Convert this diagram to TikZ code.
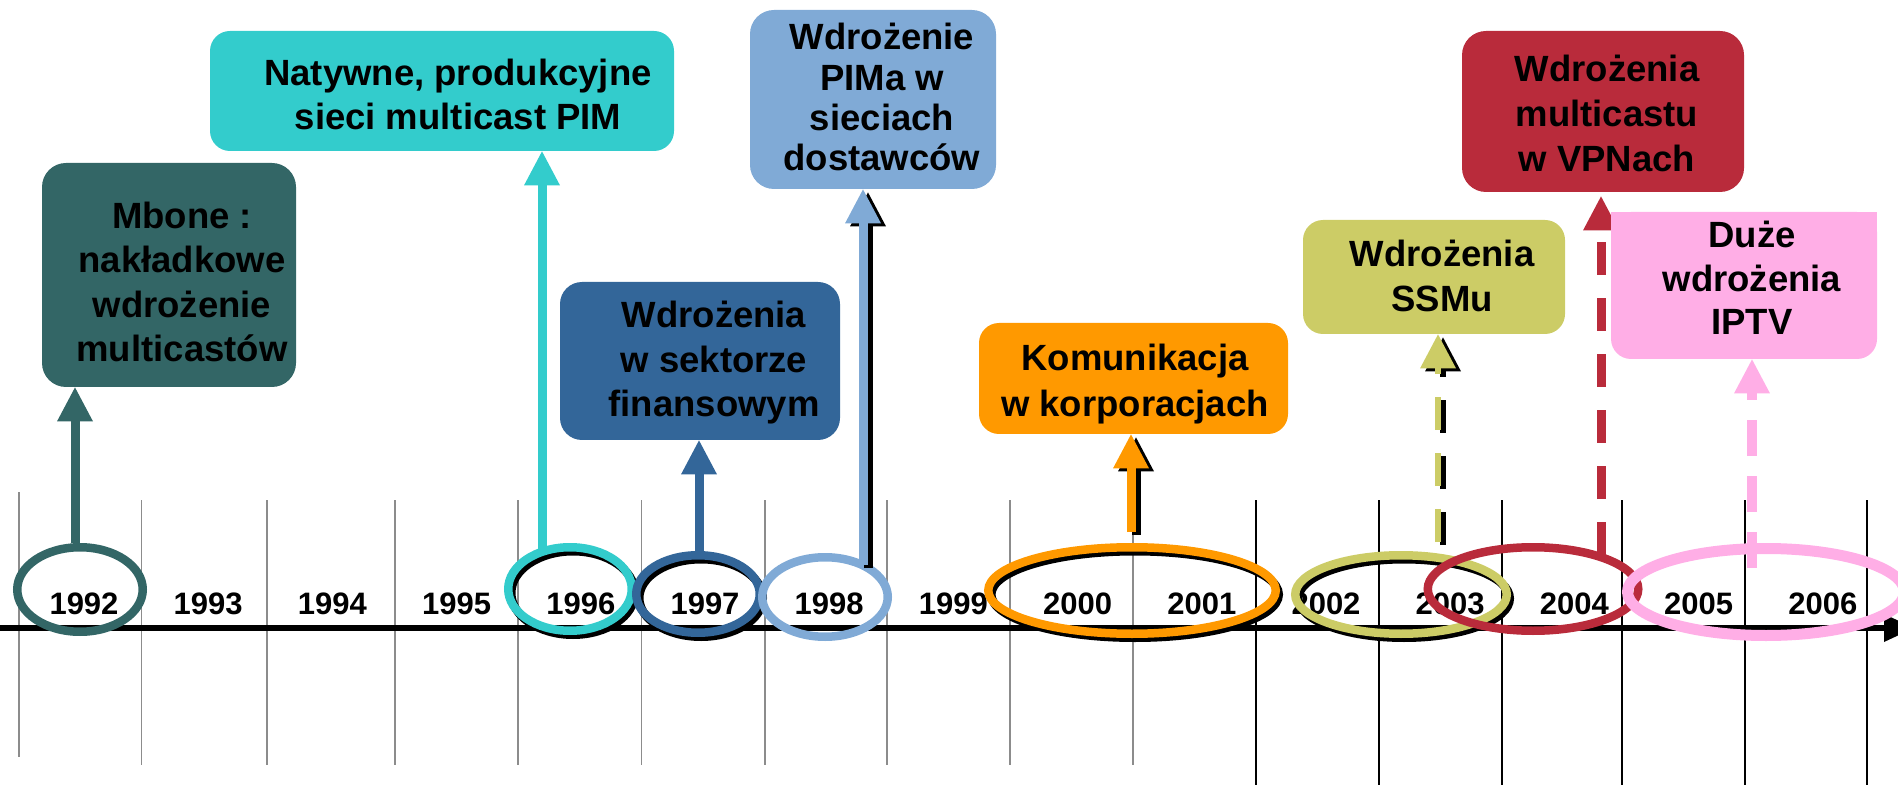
\documentclass[tikz,border=0pt]{standalone}
\usepackage{fontspec}
\setmainfont{Liberation Sans}
\usetikzlibrary{arrows.meta,shapes.geometric,fit}

\definecolor{cTeal}{HTML}{336666}
\definecolor{cTurq}{HTML}{33CCCC}
\definecolor{cBlue}{HTML}{336699}
\definecolor{cSky}{HTML}{80AAD6}
\definecolor{cOrange}{HTML}{FF9900}
\definecolor{cRed}{HTML}{B92B3B}
\definecolor{cOlive}{HTML}{CCCC66}
\definecolor{cPink}{HTML}{FFAEE6}

\begin{document}
\begin{tikzpicture}[x=0.5pt,y=-0.5pt,
  yearlbl/.style={font=\fontsize{15.5pt}{18pt}\selectfont\bfseries, anchor=base, inner sep=0pt},
  boxtxt/.style={font=\fontsize{18.25pt}{22.25pt}\selectfont\bfseries, align=center, anchor=base, inner sep=0pt},
  evbox/.style={inner sep=0pt, rounded corners=#1, draw=none},
  ring/.style={ellipse, inner sep=0pt, line width=4.25pt},
  shadowed/.style={preaction={draw=black, transform canvas={xshift=1.5pt,yshift=-2pt}}},
  gridgray/.style={draw=black!45, line width=0.75pt},
  gridblack/.style={draw=black, line width=1pt},
  axisline/.style={draw=black, line width=2.75pt, -{Triangle[length=15pt,width=14pt,line width=0pt]}},
  bigtip/.style={-{Triangle[length=17pt,width=18pt,line width=0pt]}},
  stem/.style={line width=4.5pt, bigtip},
  dashstem/.style={stem, dash pattern=on 16.5pt off 11.5pt},
  shadowshift/.style={transform canvas={xshift=2.5pt,yshift=-1.5pt}}
]
\useasboundingbox (0,0) rectangle (1898,785);

% year grid
\draw[gridgray] (19,492) -- (19,757);
\foreach \gx in {141.5,267,395,518,641.5,765,887,1010,1133}
  \draw[gridgray] (\gx,500) -- (\gx,765);
\foreach \gx in {1256,1379,1502,1622,1745,1867}
  \draw[gridblack] (\gx,500) -- (\gx,785);

% time axis
\coordinate (axL) at (0,628);
\coordinate (axR) at (1914,628);
\draw[axisline] (axL) -- (axR);

% year labels
\foreach \yr [count=\k from 0] in {1992,...,2006}
  \node[yearlbl] (yr\yr) at ({84+124.2*\k},614) {\yr};

% period rings
\node[ring, draw=cTeal, minimum width=62.75pt, minimum height=42.25pt] (e92) at (80,589.5) {};
\node[ring, shadowed, draw=cTurq, minimum width=61.75pt, minimum height=41.75pt] (e96) at (570,589) {};
\node[ring, shadowed, draw=cBlue, minimum width=61.75pt, minimum height=38.75pt] (e97) at (698,594) {};
\node[ring, draw=cSky, minimum width=62.75pt, minimum height=39.75pt] (e98) at (825,597) {};
\node[ring, shadowed, draw=cOrange, minimum width=143.75pt, minimum height=43.25pt] (e00) at (1132,590.5) {};
\node[ring, shadowed, draw=cOlive, minimum width=105.75pt, minimum height=39.25pt] (e02) at (1401,594.5) {};
\node[ring, draw=cRed, minimum width=105.25pt, minimum height=41.75pt] (e03) at (1533,589) {};
\node[ring, draw=cPink, line width=5.5pt, minimum width=138.5pt, minimum height=43.5pt] (e05) at (1766,592) {};

% event boxes
\node[evbox=12pt, fill=cTeal, fit={(42,163) (296,387)}] (mbone) {};
\node[evbox=10pt, fill=cTurq, fit={(210,31) (674,151)}] (natyw) {};
\node[evbox=11pt, fill=cBlue, fit={(560,282) (840,440)}] (finans) {};
\node[evbox=12pt, fill=cSky, fit={(750,10) (996,189)}] (pima) {};
\node[evbox=10pt, fill=cOrange, fit={(979,323) (1288,434)}] (komun) {};
\node[evbox=12pt, fill=cRed, fit={(1462,31) (1744,192)}] (vpn) {};
\node[evbox=10pt, fill=cOlive, fit={(1303,220) (1565,334)}] (ssm) {};

% stems from the rings up to the boxes
\coordinate (s92) at (75,543);
\coordinate (s96) at (542,555);
\coordinate (s97) at (699,551);
\coordinate (s98) at (863,565);
\coordinate (s00) at (1131,532);
\coordinate (s02) at (1438,542);
\coordinate (s03) at (1601,555);
\coordinate (s05) at (1752,568);

\draw[stem, cTeal] (s92) -- (s92 |- mbone.south);
\draw[stem, cTurq] (s96) -- (s96 |- natyw.south);
\draw[stem, cBlue] (s97) -- (s97 |- finans.south);
\draw[stem, black, shadowshift] (s98) -- (s98 |- pima.south);
\draw[stem, cSky] (s98) -- (s98 |- pima.south);
\draw[stem, black, shadowshift] (s00) -- (s00 |- komun.south);
\draw[stem, cOrange] (s00) -- (s00 |- komun.south);
\draw[dashstem, line width=3pt, black, shadowshift] (s02) -- (s02 |- ssm.south);
\draw[dashstem, line width=3pt, cOlive] (s02) -- (s02 |- ssm.south);
\draw[dashstem, cRed] (s03) -- ([yshift=-2pt]s03 |- vpn.south);

% the IPTV box sits over the red stem; its top corners are square
\node[evbox=10pt, fill=cPink, fit={(1611,212) (1877,359)}] (iptv) {};
\fill[cPink] (iptv.north west) rectangle ([yshift=-30*0.5pt]iptv.north east);
\draw[dashstem, line width=5pt, dash pattern=on 18pt off 10pt, cPink] (s05) -- (s05 |- iptv.south);

% box texts (anchored at the baseline of the last line)
\node[boxtxt] (tMbone) at (182,362) {Mbone :\\nakładkowe\\wdrożenie\\multicastów};
\node[boxtxt, font=\fontsize{18.25pt}{22pt}\selectfont\bfseries] (tNatyw) at (458,130) {Natywne, produkcyjne\\sieci multicast PIM};
\node[boxtxt] (tFinans) at (714,417) {Wdrożenia\\w sektorze\\finansowym};
\node[boxtxt, font=\fontsize{18.25pt}{20.2pt}\selectfont\bfseries] (tPima) at (882,171) {Wdrożenie\\PIMa w\\sieciach\\dostawców};
\node[boxtxt, font=\fontsize{18.25pt}{23pt}\selectfont\bfseries] (tKomun) at (1135,416) {Komunikacja\\w korporacjach};
\node[boxtxt, font=\fontsize{18.25pt}{22.5pt}\selectfont\bfseries] (tVpn) at (1607,172) {Wdrożenia\\multicastu\\w VPNach};
\node[boxtxt, font=\fontsize{18.25pt}{22.5pt}\selectfont\bfseries] (tSsm) at (1442,312) {Wdrożenia\\SSMu};
\node[boxtxt, font=\fontsize{18.25pt}{21.75pt}\selectfont\bfseries] (tIptv) at (1752,335) {Duże\\wdrożenia\\IPTV};
\end{tikzpicture}
\end{document}
